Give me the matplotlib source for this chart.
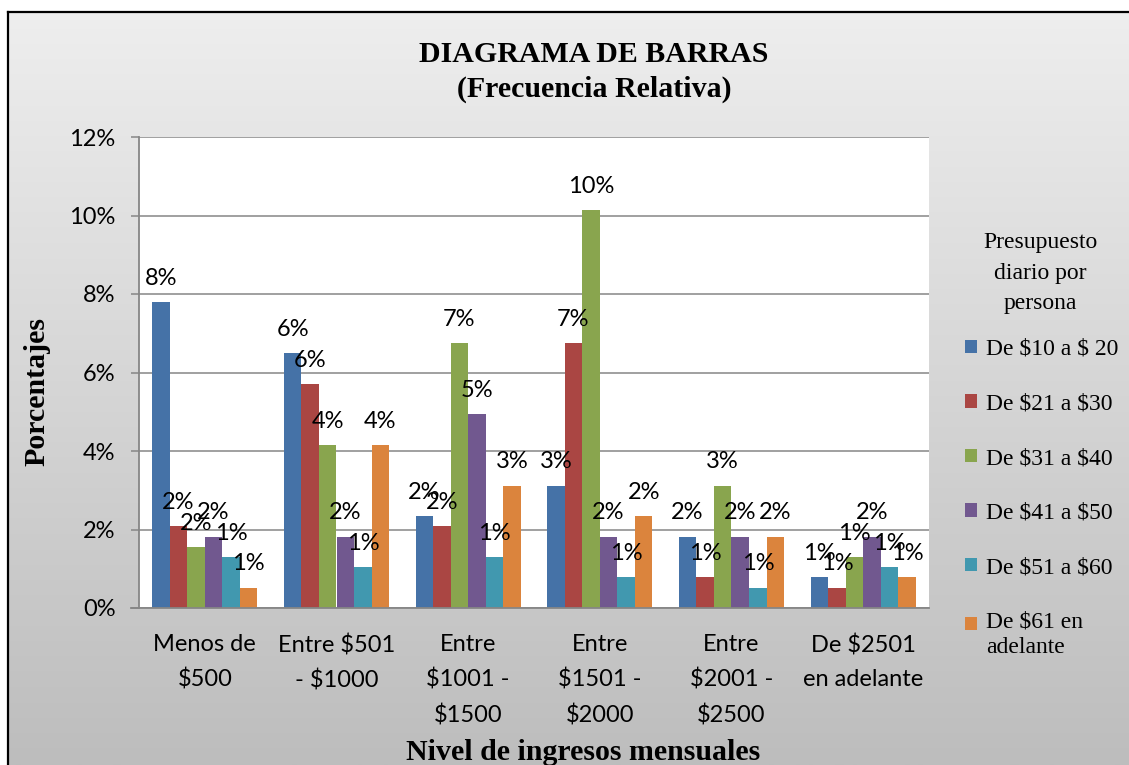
import numpy as np
import matplotlib
matplotlib.use('Agg')
import matplotlib.pyplot as plt

plt.rcParams['text.parse_math'] = False

# income levels (x categories)
categories = ['Menos de\n$500', 'Entre $501\n- $1000', 'Entre\n$1001 -\n$1500',
              'Entre\n$1501 -\n$2000', 'Entre\n$2001 -\n$2500', 'De $2501\nen adelante']

# daily budget per person (series), values in percent
series_names = ['De $10 a $ 20', 'De $21 a $30', 'De $31 a $40',
                'De $41 a $50', 'De $51 a $60', 'De $61 en\nadelante']
de10a20 = [7.79, 6.49, 2.34, 3.12, 1.82, 0.78]
de21a30 = [2.08, 5.71, 2.08, 6.75, 0.78, 0.52]
de31a40 = [1.56, 4.16, 6.75, 10.13, 3.12, 1.30]
de41a50 = [1.82, 1.82, 4.94, 1.82, 1.82, 1.82]
de51a60 = [1.30, 1.04, 1.30, 0.78, 0.52, 1.04]
de61mas = [0.52, 4.16, 3.12, 2.34, 1.82, 0.78]
series = [de10a20, de21a30, de31a40, de41a50, de51a60, de61mas]

colors = ['#4572A7', '#AA4643', '#89A54E', '#71588F', '#4198AF', '#DB843D']
yticks = [0, 2, 4, 6, 8, 10, 12]

W, H = 1129, 765
fig = plt.figure(figsize=(W / 100, H / 100), dpi=100)

# grey gradient chart background with black border on left/top
bg = fig.add_axes([0, 0, 1, 1], zorder=-10)
grad = np.linspace(238, 189, 256).reshape(-1, 1) / 255.0
bg.imshow(np.dstack([grad, grad, grad]), aspect='auto',
          extent=[8 / W, 1, 0, 1 - 12 / H])
bg.plot([8 / W, 8 / W], [0, 1 - 12 / H], color='black', lw=1.6)
bg.plot([8 / W, 1], [1 - 12 / H, 1 - 12 / H], color='black', lw=1.6)
bg.set_xlim(0, 1)
bg.set_ylim(0, 1)
bg.axis('off')

ax = fig.add_axes([139 / W, 157 / H, 790 / W, 471 / H])
ax.set_facecolor('white')

x = np.arange(len(categories))
nb = len(series)
bw = 1 / 7.5
containers = []
for i, (vals, name, c) in enumerate(zip(series, series_names, colors)):
    pos = x + (i - (nb - 1) / 2) * bw
    bars = ax.bar(pos, vals, width=bw, color=c, label=name, zorder=3)
    containers.append(bars)
    for px, v in zip(pos, vals):
        ax.annotate('%.0f%%' % v, (px, v), xytext=(0, 17), textcoords='offset points',
                    ha='center', va='center', fontsize=17, family='Lato', zorder=5)

ax.set_xlim(-0.5, len(categories) - 0.5)
ax.set_ylim(0, 12)
ax.set_yticks(yticks)
ax.set_yticklabels(['%d%%' % t for t in yticks], fontsize=17, family='Lato')
ax.set_xticks(x)
ax.set_xticklabels(categories, fontsize=17, family='Lato', linespacing=1.75)
ax.tick_params(axis='x', length=0, pad=19)
ax.tick_params(axis='y', length=6, width=1.1, color='#868686', pad=11)
ax.grid(axis='y', color='#868686', lw=1.1, zorder=1)
for s in ['top', 'right']:
    ax.spines[s].set_visible(False)
for s in ['left', 'bottom']:
    ax.spines[s].set_color('#868686')
    ax.spines[s].set_linewidth(1.3)
    ax.spines[s].set_zorder(4)
ax.spines['bottom'].set_bounds(-0.5 - 8 / 131.7, len(categories) - 0.5)
ax.spines['bottom'].set_clip_on(False)

fig.text(594 / W, 1 - 55 / H, 'DIAGRAMA DE BARRAS', ha='center', va='center',
         fontsize=21.5, fontweight='bold', family='Liberation Serif')
fig.text(594 / W, 1 - 89 / H, '(Frecuencia Relativa)', ha='center', va='center',
         fontsize=21.5, fontweight='bold', family='Liberation Serif')
fig.text(37 / W, 1 - 392 / H, 'Porcentajes', rotation=90, ha='center', va='center',
         fontsize=21.5, fontweight='bold', family='Liberation Serif')
fig.text(583 / W, 1 - 752 / H, 'Nivel de ingresos mensuales', ha='center', va='center',
         fontsize=21.5, fontweight='bold', family='Liberation Serif')

# legend title drawn separately so its spacing can match
fig.text(1040 / W, 1 - 273 / H, 'Presupuesto\ndiario por\npersona', ha='center',
         va='center', multialignment='center', linespacing=1.62,
         fontsize=17, family='Liberation Serif')

leg = fig.legend(handles=containers, loc='upper center',
                 bbox_to_anchor=(1042 / W, 1 - 339 / H), frameon=False,
                 prop={'family': 'Liberation Serif', 'size': 17},
                 handlelength=0.5, handleheight=0.5, handletextpad=0.4,
                 labelspacing=1.42, borderpad=0, borderaxespad=0)
leg.get_texts()[-1].set_linespacing(1.3)
# last (two-line) entry: marker next to the first line
last = leg.legend_handles[-1]
last.set_y(last.get_y() + 8)

fig.savefig('out.png', dpi=100)
